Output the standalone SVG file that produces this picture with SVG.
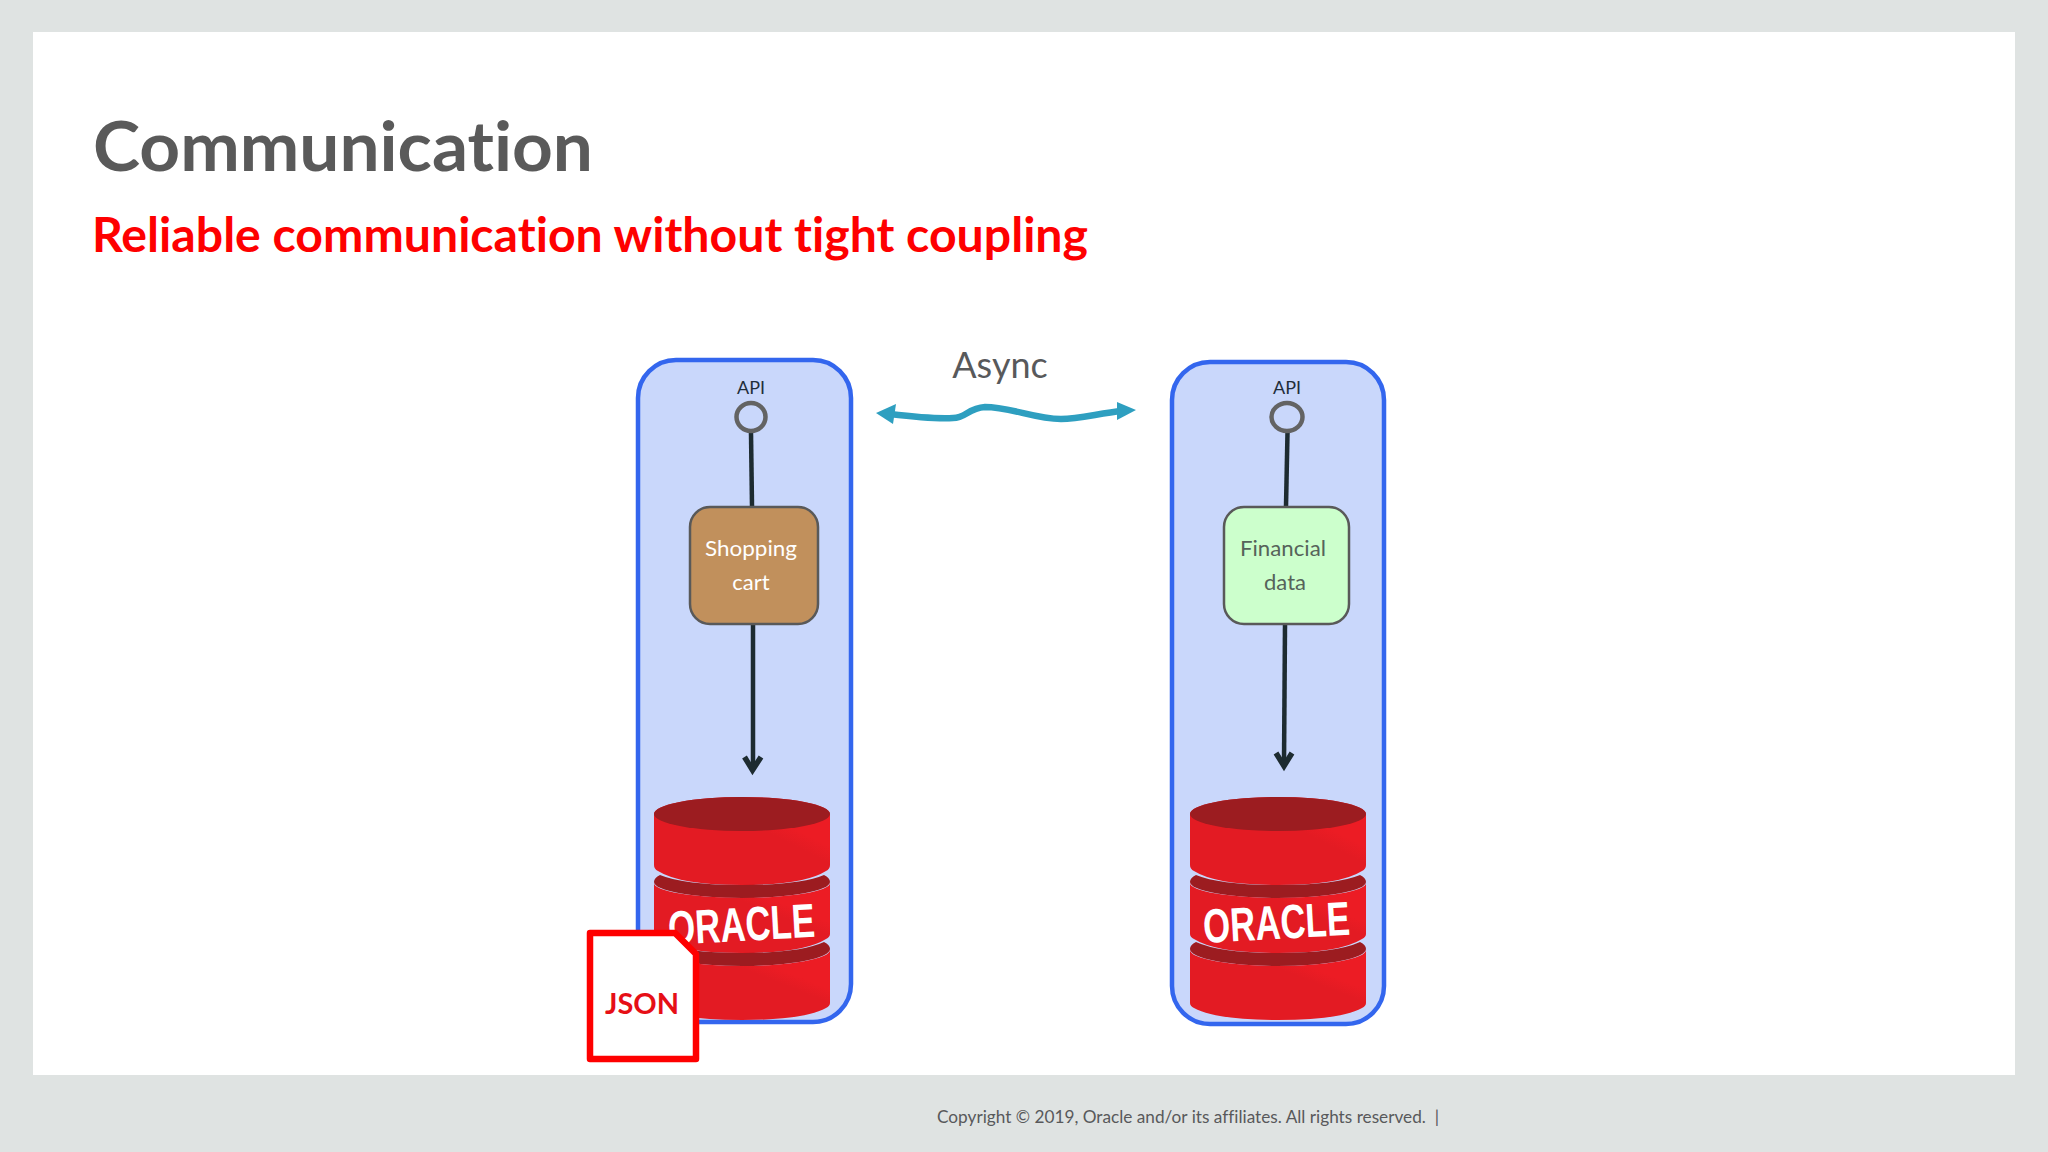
<svg xmlns="http://www.w3.org/2000/svg" width="2048" height="1152" viewBox="0 0 2048 1152">
<style>
text{font-family:Lato,"Open Sans","Liberation Sans",sans-serif;font-variant-ligatures:none}
.svc{fill:#c9d7fb;stroke:#3366ee;stroke-width:4.5}
.api{font-size:18px;fill:#1f2d3a;text-anchor:middle}
.port{fill:#c9d7fb;stroke:#636363;stroke-width:4.5}
.wire{stroke:#1d2b30;stroke-width:4.500;fill:none}
.head{stroke:#1d2b30;stroke-width:5.500;fill:none}
.box{stroke:#595959;stroke-width:2.5}
.lbl{font-size:22px;text-anchor:middle}
.dark{fill:#9c1c20}
.red{fill:url(#sheen)}
.ora{font-family:"Liberation Sans Narrow","Liberation Sans",sans-serif;font-weight:700;font-size:48px;fill:#fff}
</style>
<defs>
<linearGradient id="sheen" x1="0" y1="1" x2="1" y2="0"><stop offset="0" stop-color="#e31b23"/><stop offset="0.62" stop-color="#e31b23"/><stop offset="0.72" stop-color="#ec1c24"/><stop offset="1" stop-color="#ec1c24"/></linearGradient>
<g id="db">
<path class="red" d="M0 17A88 17 0 0 1 176 17V68Q176 72 172 74Q150 88 88 88Q26 88 4 74Q0 72 0 68Z"/>
<ellipse class="dark" cx="88" cy="17" rx="88" ry="17"/>
<path class="dark" d="M0 85Q0 81 6 78Q30 88 88 88Q146 88 170 78Q176 81 176 85A88 16 0 0 1 0 85Z"/>
<path class="red" d="M0 86A88 15 0 0 0 176 86V137Q176 140 172 142Q150 156 88 156Q26 156 4 142Q0 140 0 137Z"/>
<path class="dark" d="M0 152Q0 148 6 145Q30 156 88 156Q146 156 170 145Q176 148 176 152A88 17 0 0 1 0 152Z"/>
<path class="red" d="M0 153A88 16 0 0 0 176 153V206Q176 209 172 211Q150 223 88 223Q26 223 4 211Q0 209 0 206Z"/>
</g>
</defs>
<rect width="2048" height="1152" fill="#dfe3e2"/>
<rect x="33" y="32" width="1982" height="1043" fill="#fff"/>
<text x="93" y="171" font-size="69" font-weight="700" fill="#5a5a5a" textLength="500" lengthAdjust="spacingAndGlyphs">Communication</text>
<text x="92" y="252" font-size="47" font-weight="700" fill="#fe0000" textLength="996" lengthAdjust="spacingAndGlyphs">Reliable communication without tight coupling</text>
<g id="service-left"><rect class="svc" x="638" y="360" width="213" height="662" rx="38"/></g>
<g id="service-right"><rect class="svc" x="1172" y="362" width="212" height="662" rx="38"/></g>
<g id="db-left"><use href="#db" x="654" y="797"/><text class="ora" transform="translate(669,945) rotate(-3.2)" textLength="147" lengthAdjust="spacingAndGlyphs">ORACLE</text></g>
<g id="db-right"><use href="#db" x="1190" y="797"/><text class="ora" transform="translate(1204,943) rotate(-3.2)" textLength="147" lengthAdjust="spacingAndGlyphs">ORACLE</text></g>
<g id="connectors">
<path class="wire" d="M751 433L752 506"/>
<path class="wire" d="M753 624V768"/><path class="head" d="M744.500 757L752.500 770L761 757"/>
<path class="wire" d="M1287.500 433L1286 506"/>
<path class="wire" d="M1285 624L1284 764"/><path class="head" d="M1276 753L1284 766L1292 753"/>
<g id="async-link" fill="#2e9fc0">
<path d="M890 414C915 417 935 419 953 418C966 418 968 408 985 407C1010 407 1035 419 1061 419C1080 419 1100 413 1122 411" fill="none" stroke="#2e9fc0" stroke-width="6.500"/>
<path d="M876 413L896 404L893 424Z"/>
<path d="M1136 410L1117 402V420Z"/>
</g>
</g>
<g id="api-left"><text class="api" x="751" y="393.500">API</text><ellipse class="port" cx="751" cy="417" rx="14.500" ry="14"/></g>
<g id="api-right"><text class="api" x="1287" y="393.500">API</text><ellipse class="port" cx="1287" cy="417" rx="15.500" ry="14"/></g>
<g id="cart"><rect class="box" x="690" y="507" width="128" height="117" rx="20" fill="#c1905c"/>
<text class="lbl" x="751" y="556" fill="#fff" textLength="92" lengthAdjust="spacingAndGlyphs">Shopping</text><text class="lbl" x="751" y="590" fill="#fff">cart</text></g>
<g id="financial"><rect class="box" x="1224" y="507" width="125" height="117" rx="20" fill="#ccffcc"/>
<text class="lbl" x="1283" y="556" fill="#56635a" textLength="86" lengthAdjust="spacingAndGlyphs">Financial</text><text class="lbl" x="1285" y="590" fill="#56635a">data</text></g>
<g id="async-label"><text x="1000" y="378" font-size="36" fill="#58595b" text-anchor="middle">Async</text></g>
<g id="json"><path d="M590 933H675L696 954V1059H590Z" fill="#fff" stroke="#fe0000" stroke-width="6.500" stroke-linejoin="round"/>
<text x="642" y="1014" font-size="29" font-weight="700" fill="#e60f16" text-anchor="middle" textLength="74" lengthAdjust="spacingAndGlyphs">JSON</text></g>
<text x="937" y="1123" font-size="18" fill="#58595b" textLength="502" lengthAdjust="spacingAndGlyphs">Copyright © 2019, Oracle and/or its affiliates. All rights reserved.&#160;&#160;|</text>
</svg>
